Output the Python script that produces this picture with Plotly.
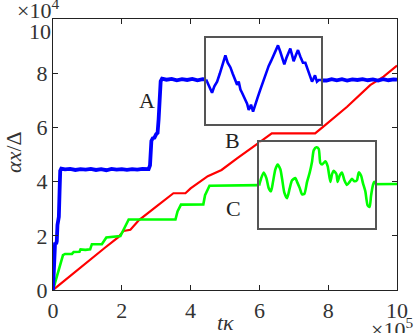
import plotly.graph_objects as go

# main curves: t*kappa in units of 1e5, alpha*x/Delta in units of 1e4
blue_t = [0, 0.02, 0.04, 0.06, 0.09, 0.11, 0.13, 0.15, 0.17, 0.19, 0.21, 0.24,
          0.35, 0.5, 0.65, 0.8, 0.95, 1.1, 1.25, 1.4, 1.55, 1.7, 1.85, 2.0,
          2.15, 2.3, 2.45, 2.6, 2.72, 2.78, 2.82, 2.86, 2.9, 2.95, 3.0, 3.04,
          3.07, 3.1, 3.13, 3.17, 3.3, 3.45, 3.6, 3.75, 3.9, 4.05, 4.2, 4.35,
          4.5, 5.0, 6.0, 7.0, 7.8, 7.95, 8.1, 8.25, 8.4, 8.55, 8.7, 8.85,
          9.0, 9.15, 9.3, 9.45, 9.6, 9.75, 9.9, 10.0]
blue_y = [0, 0.5, 1.2, 1.75, 1.7, 1.8, 2.4, 2.6, 2.7, 3.6, 4.4, 4.48,
          4.45, 4.47, 4.43, 4.46, 4.44, 4.47, 4.43, 4.46, 4.42, 4.47, 4.44, 4.46,
          4.43, 4.46, 4.44, 4.47, 4.44, 4.46, 4.6, 5.5, 5.6, 5.62, 5.75, 5.8,
          6.3, 7.2, 7.7, 7.8, 7.76, 7.79, 7.74, 7.78, 7.75, 7.79, 7.74, 7.78,
          7.76, 7.76, 7.76, 7.76, 7.76, 7.73, 7.78, 7.74, 7.78, 7.73, 7.77, 7.75,
          7.78, 7.74, 7.77, 7.73, 7.78, 7.74, 7.77, 7.76]

red_t = [0, 0.5, 1.0, 1.5, 1.9, 2.05, 2.25, 2.5, 3.0, 3.4, 3.5, 3.85, 4.0,
         4.5, 4.9, 5.35, 5.74, 6.0, 6.36, 7.62, 7.92, 8.55, 9.22, 9.61, 10.0]
red_y = [0, 0.52, 1.05, 1.55, 1.95, 2.18, 2.22, 2.58, 3.08, 3.45, 3.57, 3.57, 3.75,
         4.2, 4.43, 4.86, 5.23, 5.45, 5.78, 5.78, 6.09, 6.76, 7.56, 7.87, 8.28]

green_t = [0, 0.07, 0.16, 0.23, 0.29, 0.35, 0.55, 0.6, 0.77, 0.8, 0.94, 1.08,
           1.13, 1.42, 1.55, 1.96, 2.05, 2.13, 2.2, 3.56, 3.62, 3.72, 4.37,
           4.42, 4.55, 6.0, 8.0, 10.0]
green_y = [0, 0.31, 0.8, 1.1, 1.29, 1.33, 1.33, 1.4, 1.41, 1.5, 1.48, 1.5,
           1.69, 1.69, 1.94, 1.99, 2.21, 2.46, 2.6, 2.6, 2.9, 3.15, 3.16,
           3.5, 3.85, 3.87, 3.89, 3.91]

# zoomed insets (local units 0-100)
insB_t = [0, 2.3, 5.2, 7.2, 9.6, 11.9, 14.8, 16.8, 18.8, 21.2, 23.2, 25.5, 27.0,
          28.4, 29.9, 31.3, 33.3, 35.7, 37.1, 39.1, 40.9, 42.9, 44.9, 47.2, 49.6,
          51.6, 54.5, 56.5, 58.8, 60.9, 62.6, 64.6, 66.1, 68.1, 69.9, 71.9, 73.3,
          74.8, 76.2, 78.3, 80.0, 82.0, 84.3, 86.4, 88.4, 90.7, 92.2, 93.6, 94.8,
          96.5, 98.0, 100]
insB_y = [52.3, 45.7, 36.0, 43.8, 49.6, 59.3, 72.9, 81.8, 72.9, 67.1, 59.3, 51.6, 45.7,
          49.6, 39.9, 36.0, 30.2, 22.5, 14.7, 21.3, 12.8, 22.5, 30.2, 39.9, 49.6,
          59.3, 69.0, 74.8, 82.6, 88.4, 94.2, 86.4, 78.7, 70.9, 78.7, 86.4, 90.3,
          82.6, 74.8, 82.6, 88.4, 80.6, 72.9, 72.9, 65.1, 53.5, 49.6, 53.5, 57.4,
          49.6, 51.6, 51.6]

insC_t = [0, 1.7, 4.0, 6.3, 8.3, 10.3, 12.0, 14.0, 16.0, 18.3, 19.8, 21.8, 24.1,
          26.4, 28.4, 31.2, 32.7, 35.0, 37.0, 39.0, 41.3, 43.6, 45.6, 47.0, 49.3,
          51.3, 52.7, 54.2, 57.0, 59.0, 61.3, 62.8, 64.2, 66.5, 67.6, 69.3, 71.3,
          73.4, 75.6, 77.9, 79.9, 81.9, 84.2, 85.7, 87.7, 89.4, 91.4, 93.4, 95.1,
          96.3, 98.0, 99.1, 100]
insC_y = [49.2, 57.8, 65.6, 58.6, 46.1, 42.2, 53.9, 69.5, 75.4, 69.5, 57.8, 40.2, 33.6,
          46.1, 55.9, 58.6, 53.9, 46.1, 38.3, 39.1, 53.9, 65.6, 79.3, 93.0, 96.9,
          94.9, 77.3, 75.4, 79.3, 73.4, 53.9, 63.7, 67.6, 63.7, 53.9, 61.7, 65.6,
          55.9, 50.0, 53.9, 57.8, 54.7, 55.9, 65.6, 61.7, 52.0, 42.2, 24.6, 22.7,
          36.3, 50.0, 53.9, 50.8]

tick_vals = [0, 2, 4, 6, 8, 10]
labels = [("A", 2.73, 7.0), ("B", 5.23, 5.5), ("C", 5.25, 3.0)]

SERIF = "Liberation Serif"
TXT = "#333"
FS = 22

fig = go.Figure()
fig.add_trace(go.Scatter(x=red_t, y=red_y, mode="lines",
                         line=dict(color="#ff0000", width=2.2), showlegend=False))
fig.add_trace(go.Scatter(x=green_t, y=green_y, mode="lines",
                         line=dict(color="#00ff00", width=2.6), showlegend=False))
fig.add_trace(go.Scatter(x=blue_t, y=blue_y, mode="lines",
                         line=dict(color="#0000ff", width=3.8), showlegend=False))

# insets
fig.add_trace(go.Scatter(x=insB_t, y=insB_y, mode="lines", xaxis="x2", yaxis="y2",
                         line=dict(color="#0000ff", width=2.6), showlegend=False))
fig.add_trace(go.Scatter(x=insC_t, y=insC_y, mode="lines", xaxis="x3", yaxis="y3",
                         line=dict(color="#00ff00", width=2.6, shape="spline", smoothing=0.6),
                         showlegend=False))

for name, tx, ty in labels:
    fig.add_annotation(x=tx, y=ty, text=name, showarrow=False,
                       font=dict(family=SERIF, size=FS, color="#222"))

# top y tick label sits a little lower in the original
fig.add_annotation(x=0, y=9.53, text="10", showarrow=False, xref="paper", yref="y",
                   xanchor="right", yanchor="middle", xshift=0,
                   font=dict(family=SERIF, size=FS, color=TXT))

# exponents
fig.add_annotation(x=-0.045, y=1.0, xref="paper", yref="paper", text="×10<sup>4</sup>",
                   showarrow=False, xanchor="center", yanchor="bottom", yshift=-6,
                   font=dict(family=SERIF, size=FS, color=TXT))
fig.add_annotation(x=0.92, y=-0.08, xref="paper", yref="paper", text="×10<sup>5</sup>",
                   showarrow=False, xanchor="left", yanchor="top",
                   font=dict(family=SERIF, size=FS, color=TXT))

# axis titles
fig.add_annotation(x=0.5, y=-0.12, xref="paper", yref="paper", text="<i>tκ</i>",
                   showarrow=False, xanchor="center", yanchor="middle",
                   font=dict(family=SERIF, size=FS, color=TXT))
fig.add_annotation(x=-0.113, y=0.51, xref="paper", yref="paper", text="<i>αx</i>/Δ",
                   showarrow=False, textangle=-90, xanchor="center", yanchor="middle",
                   font=dict(family=SERIF, size=FS, color=TXT))

axis_common = dict(range=[0, 10], showgrid=False, zeroline=False, showline=True,
                   linecolor="#222", linewidth=1.2, mirror="ticks", ticks="inside",
                   ticklen=5, tickcolor="#222", automargin=False,
                   tickfont=dict(family=SERIF, size=FS, color=TXT))

inset_common = dict(range=[0, 100], showgrid=False, zeroline=False, showline=True,
                    linecolor="#555", linewidth=1.5, mirror=True, showticklabels=False,
                    ticks="", automargin=False)

fig.update_layout(
    width=415, height=333,
    margin=dict(l=53, r=18, t=19, b=43),
    paper_bgcolor="white", plot_bgcolor="white",
    xaxis=dict(axis_common, tickvals=tick_vals),
    yaxis=dict(axis_common, tickvals=tick_vals, ticktext=["0", "2", "4", "6", "8", " "]),
    xaxis2=dict(inset_common, domain=[0.445, 0.779], anchor="y2"),
    yaxis2=dict(inset_common, range=[-3, 103], domain=[0.611, 0.929], anchor="x2"),
    xaxis3=dict(inset_common, domain=[0.599, 0.937], anchor="y3"),
    yaxis3=dict(inset_common, range=[-3, 103], domain=[0.230, 0.545], anchor="x3"),
)

# drop the page's default body margin so the figure sits at the window corner
fig.write_html("out.html", config={"displayModeBar": False},
               post_script="document.body.style.margin='0';")
